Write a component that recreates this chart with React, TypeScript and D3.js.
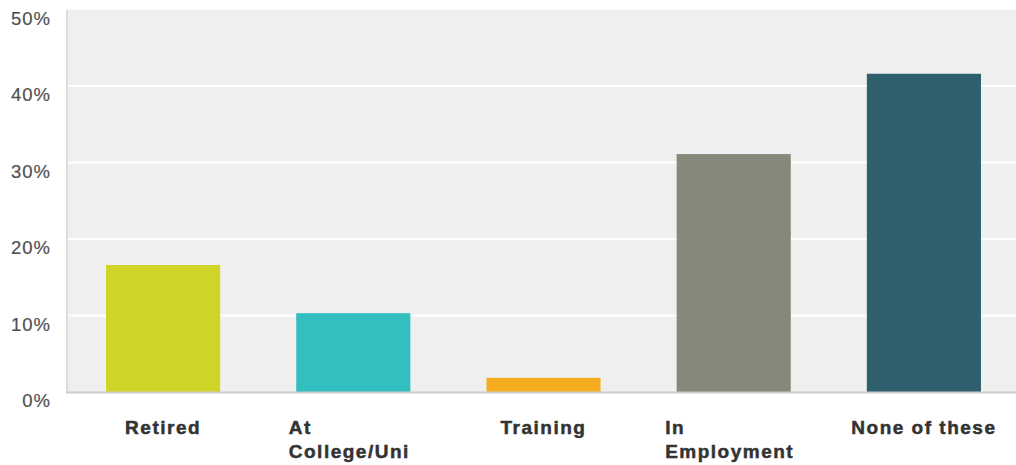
import React, { useEffect, useRef } from "react";
import * as d3 from "d3";

const categories: string[][] = [["Retired"], ["At", "College/Uni"], ["Training"], ["In", "Employment"], ["None of these"]];
const values: number[] = [16.6, 10.3, 1.85, 31.1, 41.6];
const colors: string[] = ["#cfd527", "#33bec0", "#f6ae1e", "#878879", "#2e5f6c"];
const yTicks: number[] = [0, 10, 20, 30, 40, 50];

const W = 1016;
const H = 465;

export default function App() {
  const ref = useRef<SVGSVGElement>(null);
  const left = 68;
  const right = 1019;
  const top = 9.5;
  const bottom = 392;
  const x = d3.scaleBand<number>().domain(d3.range(values.length)).range([left, right]).paddingInner(0.4).paddingOuter(0.2);
  const y = d3.scaleLinear().domain([0, 50]).range([bottom, top]);

  useEffect(() => {
    const svg = d3.select(ref.current);
    svg.selectAll("g.xl").each(function () {
      const g = d3.select(this as SVGGElement);
      const i = +g.attr("data-i");
      const texts = g.selectAll<SVGTextElement, unknown>("text").nodes();
      if (texts.length > 1) {
        const wmax = d3.max(texts, (t) => t.getComputedTextLength()) || 0;
        const cx = x(i)! + x.bandwidth() / 2;
        texts.forEach((t) => {
          t.setAttribute("text-anchor", "start");
          t.setAttribute("x", String(cx - wmax / 2 - 4));
        });
      }
    });
  }, []);

  return (
    <svg ref={ref} width={W} height={H} style={{ position: "absolute", left: 0, top: 0, background: "#fff" }}>
      <rect x={left} y={top} width={W - left} height={bottom - top} fill="#efefef" />
      {yTicks.filter((t) => t > 0 && t < 50).map((t) => (
        <line key={t} x1={left} x2={W} y1={y(t)} y2={y(t)} stroke="#ffffff" strokeWidth={2} />
      ))}
      <line x1={left - 1} x2={left - 1} y1={top} y2={bottom} stroke="#dcdcdc" strokeWidth={2} />
      {values.map((v, i) => (
        <rect key={i} x={x(i)} y={y(v)} width={x.bandwidth()} height={bottom - y(v)} fill={colors[i]} />
      ))}
      <line x1={left - 2} x2={W} y1={bottom + 0.5} y2={bottom + 0.5} stroke="#cccccc" strokeWidth={2} />
      {yTicks.map((t) => (
        <text key={t} x={51} y={y(t) + 15} textAnchor="end" fontFamily="'Liberation Sans', Arial, sans-serif" fontSize={18.5} letterSpacing={1} fill="#505050" stroke="#505050" strokeWidth={0.2}>
          {t}%
        </text>
      ))}
      {categories.map((lines, i) => (
        <g className="xl" data-i={i} key={i}>
          {lines.map((ln, j) => (
            <text key={j} x={x(i)! + x.bandwidth() / 2} y={434 + j * 24} textAnchor="middle" fontFamily="'Liberation Sans', Arial, sans-serif" fontWeight="bold" fontSize={19} letterSpacing={1.5} fill="#333" stroke="#333" strokeWidth={0.5}>
              {ln}
            </text>
          ))}
        </g>
      ))}
    </svg>
  );
}
